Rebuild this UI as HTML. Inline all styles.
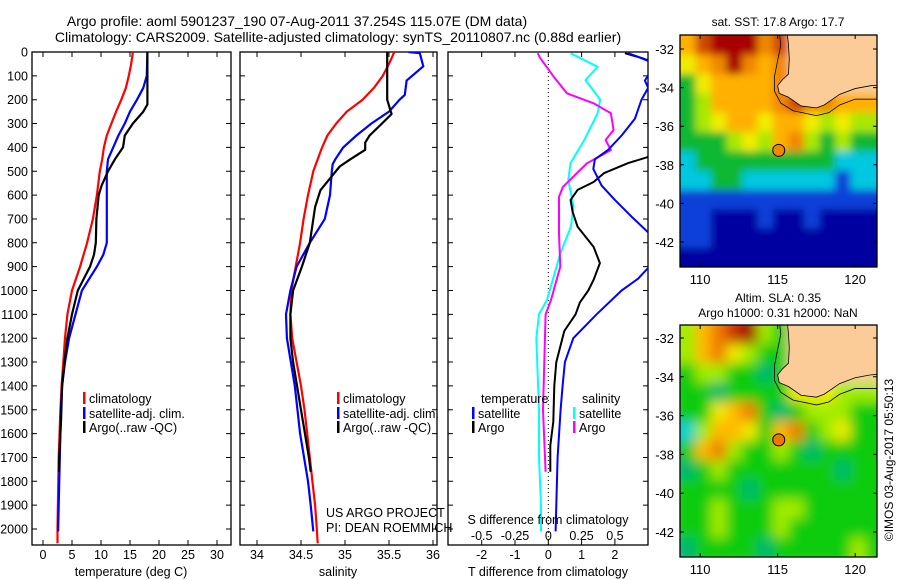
<!DOCTYPE html>
<html><head><meta charset="utf-8"><style>
html,body{margin:0;padding:0;background:#fff;}
svg{display:block;font-family:"Liberation Sans",Arial,sans-serif;}
text{font-size:12.5px;fill:#000;}
</style></head><body>
<svg id="fig" width="900" height="580" viewBox="0 0 900 580" xmlns="http://www.w3.org/2000/svg">
<defs>
<clipPath id="c1"><rect x="32" y="52" width="199" height="493"/></clipPath>
<clipPath id="c2"><rect x="240" y="52" width="197" height="493"/></clipPath>
<clipPath id="c3"><rect x="448" y="52" width="200" height="493"/></clipPath>
<clipPath id="cm1"><rect x="680" y="35" width="197" height="232"/></clipPath>
<clipPath id="cm2"><rect x="680" y="325" width="197" height="232"/></clipPath>
<filter id="bl" x="-5%" y="-5%" width="110%" height="110%"><feGaussianBlur stdDeviation="4"/></filter>
<filter id="bl2" x="-5%" y="-5%" width="110%" height="110%"><feGaussianBlur stdDeviation="6"/></filter>
</defs>
<text x="297" y="26" text-anchor="middle" style="font-size:14px">Argo profile: aoml 5901237_190 07-Aug-2011 37.254S 115.07E (DM data)</text>
<text x="338" y="42" text-anchor="middle" style="font-size:14px">Climatology: CARS2009. Satellite-adjusted climatology: synTS_20110807.nc (0.88d earlier)</text>
<text x="778" y="26" text-anchor="middle" style="font-size:12px">sat. SST: 17.8 Argo: 17.7</text>
<text x="778" y="302" text-anchor="middle" style="font-size:12px">Altim. SLA: 0.35</text>
<text x="778" y="317" text-anchor="middle" style="font-size:12px">Argo h1000: 0.31 h2000: NaN</text>
<text transform="translate(893,460) rotate(-90)" text-anchor="middle" style="font-size:12px">©IMOS 03-Aug-2017 05:50:13</text>
<g id="g"></g>
</svg>
<script>
// ---- Temperature profiles (depth m, deg C)
const tClimDepth=[0,50,100,150,200,250,300,350,400,450,500,600,700,800,900,1000,1100,1200,1300,1400,1500,1700,2000,2060];
const tClimVal=[15.5,15.2,14.8,14.3,13.5,12.6,11.8,11.0,10.5,10.2,9.8,9.3,8.6,7.6,6.4,5.0,4.2,3.8,3.5,3.2,3.0,2.7,2.5,2.5];
const tSatDepth=[0,100,150,200,250,300,350,400,450,500,600,650,800,850,900,1000,1100,1200,1300,1400,1500,1700,1900,2010];
const tSatVal=[18.0,17.9,17.3,16.2,15.0,14.1,13.0,12.1,11.2,11.0,11.0,11.0,11.0,10.4,9.3,6.7,5.6,4.5,3.8,3.3,3.1,2.9,2.7,2.6];
const tArgoDepth=[0,100,200,220,250,300,350,400,450,500,560,600,700,800,850,900,1000,1100,1200,1300,1400,1550,1700,1760];
const tArgoVal=[18.0,18.0,18.0,18.0,17.3,15.5,14.1,13.8,12.4,11.2,10.1,9.6,9.2,9.1,8.8,8.1,6.0,5.0,4.2,3.7,3.3,3.1,2.8,2.8];
// ---- Salinity profiles
const sClimDepth=[0,50,100,150,200,250,300,350,400,450,500,600,700,800,900,1000,1100,1200,1300,1400,1500,1600,1700,1800,1900,2000,2060];
const sClimVal=[35.56,35.5,35.43,35.33,35.2,35.02,34.9,34.8,34.74,34.69,34.64,34.58,34.53,34.49,34.44,34.39,34.38,34.40,34.45,34.5,34.54,34.57,34.6,34.63,34.66,34.68,34.69];
const sSatDepth=[0,5,60,120,180,200,250,300,350,400,450,470,500,600,700,800,900,1000,1100,1200,1400,1600,1800,1900,2010];
const sSatVal=[35.72,35.85,35.89,35.7,35.68,35.62,35.5,35.3,35.13,34.98,34.89,34.86,34.85,34.83,34.77,34.6,34.45,34.38,34.33,34.34,34.43,34.49,34.58,34.61,34.64];
const sArgoDepth=[0,200,250,260,300,350,380,410,450,480,530,580,650,800,900,1000,1100,1200,1300,1500,1700,1760];
const sArgoVal=[35.48,35.48,35.52,35.53,35.42,35.28,35.23,35.23,35.06,34.94,34.83,34.72,34.66,34.6,34.51,34.41,34.38,34.38,34.41,34.5,34.59,34.61];
// ---- Differences from climatology
const dTSatDepth=[5,20,50,120,150,200,280,350,410,430,450,490,560,620,690,770,850,890,950,1000,1100,1200,1300,1400,1500,1700,2010];
const dTSatVal=[2.4,2.7,3.2,2.9,3.0,2.8,2.6,2.2,1.8,1.6,1.4,1.35,1.6,2.0,2.5,3.1,3.6,3.1,2.7,2.2,1.45,0.75,0.5,0.43,0.37,0.28,0.22];
const dTArgoDepth=[5,25,60,440,466,508,545,578,620,670,733,817,885,955,1000,1050,1100,1170,1300,1400,1550,1650,1760];
const dTArgoVal=[2.3,2.8,3.5,3.0,2.4,1.67,1.36,0.88,0.67,0.73,0.88,1.36,1.55,1.36,1.2,0.95,0.82,0.48,0.24,0.18,0.15,0.06,0.06];
const dSSatDepth=[5,62,118,200,257,369,466,537,648,733,845,1040,1100,1200,1500,1700,1900,2010];
const dSSatVal=[0.167,0.37,0.28,0.39,0.37,0.27,0.167,0.15,0.19,0.17,0.09,-0.01,-0.07,-0.09,-0.07,-0.07,-0.055,-0.055];
const dSArgoDepth=[5,26,103,173,215,257,327,369,411,467,565,607,760,900,1040,1100,1300,1500,1760];
const dSArgoVal=[-0.08,-0.06,0.04,0.14,0.34,0.47,0.49,0.43,0.47,0.29,0.11,0.08,0.08,0.09,0.02,-0.02,-0.03,-0.04,-0.02];
// ---- Tick labels
const depthTicks=[0,100,200,300,400,500,600,700,800,900,1000,1100,1200,1300,1400,1500,1600,1700,1800,1900,2000];
const tempTicks=[0,5,10,15,20,25,30];
const salTicks=[34,34.5,35,35.5,36];
const salTickLabels=["34","34.5","35","35.5","36"];
const dTTicks=[-2,-1,0,1,2];
const dSTicks=[-0.5,-0.25,0,0.25,0.5];
const dSTickLabels=["-0.5","-0.25","0","0.25","0.5"];
const lonTicks=[110,115,120];
const latTicks=[-32,-34,-36,-38,-40,-42];
// ---- Map grids (1 degree cells, rows lat -31.8..-42.8, cols lon 109.2..121.2); L = land
const sstRows=[
"6899978LLLLLL","5679767LLLLLL","3566667LLLLLL","3466667877666",
"3456656654544","3334546743433","2333333333222","2233222222122",
"1111111111111","1100010010000","1100000000000","0000000000000"];
const slaRows=[
"4678943LLLLLL","4675433LLLLLL","3443323LLLLLL","3323333555444",
"3356732344433","1466536734533","3674334323333","2343333333233",
"3333233333333","3343334433333","3343334333333","2333323333343"];
const sstColors=["#0000a0","#0c40d8","#00c8e0","#10b830","#a8e800","#f0ec00","#ffb000","#f08800","#d04800","#a80000"];
const slaColors=["#00a0a0","#00d0d0","#00b870","#10cc10","#a0ec00","#f0ec00","#ffb800","#f07800","#c83000","#a00000"];

const NS="http://www.w3.org/2000/svg";
const G=document.getElementById('g');
function mk(tag,at,parent){const e=document.createElementNS(NS,tag);for(const k in at)e.setAttribute(k,at[k]);(parent||G).appendChild(e);return e;}
const yD=d=>52+0.2385*d;
const xT=v=>43+v*5.8;
const xS=v=>257+(v-34)*88;
const xDT=v=>548.3+v*33.3;
const xDS=v=>548.3+v*133.2;

function panel(x0,x1,name){
  const r=mk('rect',{x:x0,y:52,width:x1-x0,height:493,fill:'none',stroke:'#000','stroke-width':1.3});
  
  
  depthTicks.forEach(d=>{
    const t=mk('path',{d:`M${x0},${yD(d)}h5M${x1},${yD(d)}h-5`,stroke:'#000','stroke-width':1});
    
    
  });
}
function line(ds,vs,fx,color,clip,name,w){
  const pts=ds.map((d,i)=>fx(vs[i]).toFixed(1)+','+yD(d).toFixed(1)).join(' ');
  const p=mk('polyline',{points:pts,fill:'none',stroke:color,'stroke-width':w||2,'clip-path':`url(#${clip})`,'stroke-linejoin':'round'});
  
  
}
function txt(x,y,s,anchor,name,size){
  const t=mk('text',{x:x,y:y,'text-anchor':anchor||'start'});
  if(size)t.setAttribute('style','font-size:'+size+'px');
  t.textContent=s;
  
  
  return t;
}
function xticks(vals,labels,fx,x0,x1,name){
  vals.forEach((v,i)=>{
    const x=fx(v);
    const t=mk('path',{d:`M${x},545v-5M${x},52v5`,stroke:'#000','stroke-width':1});
    
    
    txt(x,559,labels[i],'middle',name+'-tick-label');
  });
}
function legItem(x,y,color,label,name){
  const b=mk('rect',{x:x,y:y-11,width:2.5,height:12,fill:color});
  
  
  txt(x+6,y,label,'start',name);
}

// Panel 1 temperature
panel(32,231,'temperature-panel');
depthTicks.forEach(d=>txt(28,yD(d)+4.5,String(d),'end','depth-tick-label'));
xticks(tempTicks,tempTicks.map(String),xT,32,231,'temperature-axis');
txt(131,576,'temperature (deg C)','middle','temperature-axis-title');
line(tClimDepth,tClimVal,xT,'#ff0000','c1','temp-climatology-line',2.2);
line(tSatDepth,tSatVal,xT,'#0000ff','c1','temp-satellite-line',2.2);
line(tArgoDepth,tArgoVal,xT,'#000000','c1','temp-argo-line',2.2);
legItem(83,403,'#ff0000','climatology','temp-legend-climatology');
legItem(83,418,'#0000ff','satellite-adj. clim.','temp-legend-satellite');
legItem(83,432,'#000000','Argo(..raw -QC)','temp-legend-argo');

// Panel 2 salinity
panel(240,437,'salinity-panel');
xticks(salTicks,salTickLabels,xS,240,437,'salinity-axis');
txt(338,576,'salinity','middle','salinity-axis-title');
line(sClimDepth,sClimVal,xS,'#ff0000','c2','sal-climatology-line',2.2);
line(sSatDepth,sSatVal,xS,'#0000ff','c2','sal-satellite-line',2.2);
line(sArgoDepth,sArgoVal,xS,'#000000','c2','sal-argo-line',2.2);
legItem(337,403,'#ff0000','climatology','sal-legend-climatology');
legItem(337,418,'#0000ff','satellite-adj. clim.','sal-legend-satellite');
legItem(337,432,'#000000','Argo(..raw -QC)','sal-legend-argo');
txt(326,517,'US ARGO PROJECT','start','project-credit');
txt(326,532,'PI: DEAN ROEMMICH','start','pi-credit');

// Panel 3 differences
panel(448,648,'difference-panel');
xticks(dTTicks,dTTicks.map(String),xDT,448,648,'t-diff-axis');
txt(548,576,'T difference from climatology','middle','t-diff-axis-title');
const zl=mk('line',{x1:xDT(0),x2:xDT(0),y1:52,y2:545,stroke:'#000','stroke-width':1,'stroke-dasharray':'1,3'});


line(dSSatDepth,dSSatVal,xDS,'#00ffff','c3','s-diff-satellite-line',2);
line(dSArgoDepth,dSArgoVal,xDS,'#ff00ff','c3','s-diff-argo-line',2);
line(dTArgoDepth,dTArgoVal,xDT,'#000000','c3','t-diff-argo-line',2);
line(dTSatDepth,dTSatVal,xDT,'#0000ff','c3','t-diff-satellite-line',2);
txt(481,403,'temperature','start','diff-legend-temperature-header');
legItem(472,418,'#0000ff','satellite','diff-legend-t-satellite');
legItem(472,432,'#000000','Argo','diff-legend-t-argo');
txt(582,403,'salinity','start','diff-legend-salinity-header');
legItem(573,418,'#00ffff','satellite','diff-legend-s-satellite');
legItem(573,432,'#ff00ff','Argo','diff-legend-s-argo');
txt(548,524,'S difference from climatology','middle','s-diff-axis-title');
dSTicks.forEach((v,i)=>txt(xDS(v),540,dSTickLabels[i],'middle','s-diff-tick-label'));

// Maps
function drawMap(y0,latY,rows,colors,clip,blur,name){
  const mx=lon=>680+(lon-108.7)*15.5;
  const my=lat=>latY+(-32-lat)*((y0===35)?19.3:19.4);
  const grp=mk('g',{'clip-path':`url(#${clip})`});
  
  
  const inner=mk('g',{filter:`url(#${blur})`},grp);
  rows.forEach((row,ri)=>{
    for(let ci=0;ci<row.length;ci++){
      const ch=row[ci];
      const lat=-31.3-ri, lon=108.7+ci;
      const c=ch==='L'?'#fccc98':colors[+ch];
      const x=mx(lon)-(ci===0?8:0), y=my(lat)-(ri===0?8:0);
      const w=15.5+(ci===0?8:0)+(ci===row.length-1?8:0);
      const h=19.4+(ri===0?8:0)+(ri===rows.length-1?8:0);
      const cell=mk('rect',{x:x,y:y,width:w+0.5,height:h+0.5,fill:c},inner);
      
      
    }
  });
  const land=[[115.6,-31.0],[122,-31.0],[122,-33.85],[121,-33.9],[120,-34.05],[119,-34.35],[118,-34.9],[117.5,-35.05],[116.5,-34.95],[115.7,-34.5],[115.1,-34.3],[115.0,-33.9],[115.3,-33.6],[115.7,-33.3],[115.75,-32.5],[115.7,-31.8]];
  const lp=mk('polygon',{points:land.map(p=>mx(p[0])+','+my(p[1])).join(' '),fill:'#fccc98',stroke:'#000','stroke-width':0.8},grp);
  
  
  const shelf=[[115.1,-31.0],[115.2,-31.8],[115.0,-32.6],[114.8,-33.4],[114.8,-34.2],[115.2,-34.8],[116,-35.2],[117.5,-35.45],[118.3,-35.3],[119,-34.9],[120,-34.6],[121.4,-34.6]];
  const sp=mk('polyline',{points:shelf.map(p=>mx(p[0])+','+my(p[1])).join(' '),fill:'none',stroke:'#000','stroke-width':0.8},grp);
  
  
  const fr=mk('rect',{x:680,y:y0,width:197,height:232,fill:'none',stroke:'#000','stroke-width':1.3});
  
  
  const ac=mk('circle',{cx:mx(115.07),cy:my(-37.25),r:6,fill:colors[7],stroke:'#000','stroke-width':1});
  
  
  lonTicks.forEach(l=>{
    const t=mk('path',{d:`M${mx(l)},${y0}v4M${mx(l)},${y0+232}v-4`,stroke:'#000','stroke-width':1});
    
    
    txt(mx(l),y0+249,String(l),'middle','lon-tick-label',13);
  });
  latTicks.forEach(l=>{
    const t=mk('path',{d:`M680,${my(l)}h4M877,${my(l)}h-4`,stroke:'#000','stroke-width':1});
    
    
    txt(674,my(l)+5,String(l),'end','lat-tick-label',13);
  });
}
drawMap(35,49,sstRows,sstColors,'cm1','bl','sst-map');
drawMap(325,338,slaRows,slaColors,'cm2','bl2','sla-map');
</script>
</body></html>
